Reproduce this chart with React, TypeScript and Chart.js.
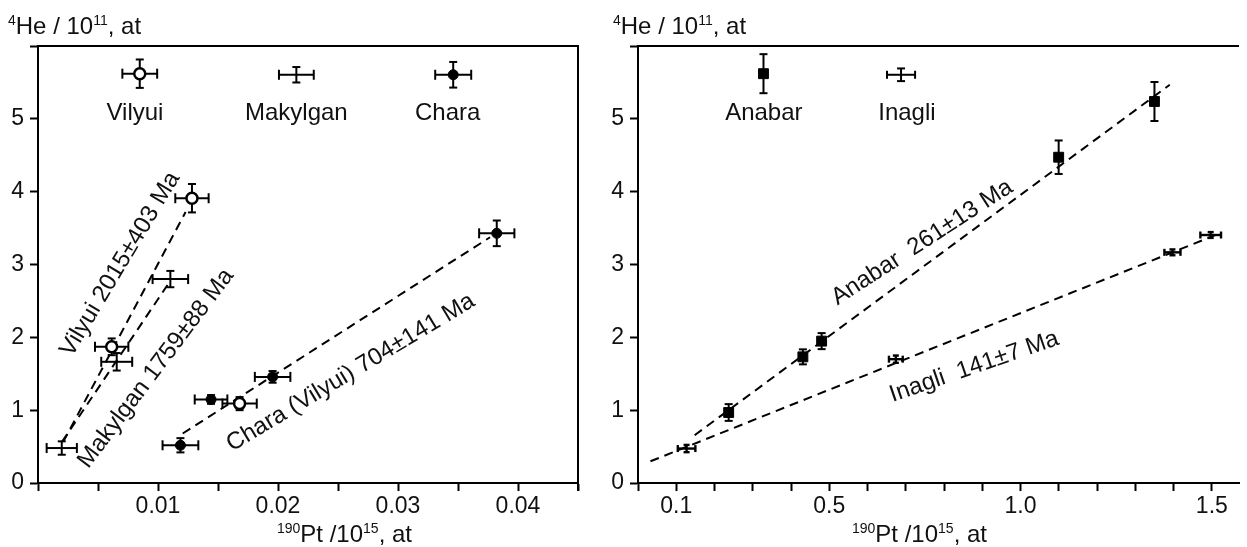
import React, { useEffect, useRef } from "react";
import { Chart, registerables } from "chart.js";

Chart.register(...registerables);

const FONT = "'Liberation Sans', Arial, Helvetica, sans-serif";

// ---------------- Left panel data ----------------
const vilyuiX = [0.00614, 0.01283, 0.0168];
const vilyuiY = [1.87, 3.91, 1.09];
const vilyuiXErr = [0.00139, 0.00139, 0.00143];
const vilyuiYErr = [0.115, 0.195, 0.09];

const makylganX = [0.00198, 0.00656, 0.01103];
const makylganY = [0.48, 1.664, 2.8];
const makylganXErr = [0.00126, 0.00129, 0.00148];
const makylganYErr = [0.092, 0.12, 0.112];

const charaX = [0.01187, 0.01442, 0.01955, 0.03823];
const charaY = [0.518, 1.147, 1.457, 3.428];
const charaXErr = [0.00149, 0.00136, 0.00148, 0.00147];
const charaYErr = [0.098, 0.06, 0.08, 0.176];

const vilyuiLineX = [0.0021, 0.0123];
const vilyuiLineY = [0.565, 3.72];
const makylganLineX = [0.002, 0.0108];
const makylganLineY = [0.565, 2.72];
const charaLineX = [0.01206, 0.03767];
const charaLineY = [0.68, 3.374];

const keyLeftNames = ["Vilyui", "Makylgan", "Chara"];
const keyLeftX = [0.00848, 0.02153, 0.0346];
const keyLeftY = [5.62, 5.605, 5.605];
const keyLeftXErr = [0.00145, 0.00145, 0.0015];
const keyLeftYErr = [0.195, 0.106, 0.176];
const keyLeftLabelX = [0.00808, 0.02153, 0.03414];

const leftAgeLabels = ["Vilyui 2015±403 Ma", "Makylgan 1759±88 Ma", "Chara (Vilyui) 704±141 Ma"];
const leftAgeLabelX = [0.00685, 0.00984, 0.02606];
const leftAgeLabelY = [3.004, 1.573, 1.515];

const leftXTickLabels = ["0.01", "0.02", "0.03", "0.04"];

// ---------------- Right panel data ----------------
const anabarX = [0.237, 0.431, 0.48, 1.0996, 1.35];
const anabarY = [0.968, 1.732, 1.948, 4.473, 5.238];
const anabarYErr = [0.115, 0.103, 0.11, 0.23, 0.268];

const inagliX = [0.127, 0.674, 1.397, 1.497];
const inagliY = [0.473, 1.7, 3.167, 3.405];
const inagliXErr = [0.023, 0.018, 0.021, 0.027];
const inagliYErr = [0.05, 0.05, 0.04, 0.04];

const anabarLineX = [0.148, 1.39];
const anabarLineY = [0.656, 5.467];
const inagliLineX = [0.0326, 1.521];
const inagliLineY = [0.298, 3.428];

const keyRightNames = ["Anabar", "Inagli"];
const keyRightX = [0.328, 0.6876];
const keyRightY = [5.62, 5.605];
const keyRightXErr = [0, 0.0367];
const keyRightYErr = [0.268, 0.087];
const keyRightLabelX = [0.329, 0.703];

const rightAgeLabels = ["Anabar  261±13 Ma", "Inagli  141±7 Ma"];
const rightAgeLabelX = [0.7428, 0.879];
const rightAgeLabelY = [3.302, 1.595];

const rightXTickLabels = ["0.1", "0.5", "1.0", "1.5"];

const yTickLabels = ["0", "1", "2", "3", "4", "5"];
const keyLabelY = 4.99;

type Seg = { t: string; sup?: boolean };
const yTitle: Seg[] = [{ t: "4", sup: true }, { t: "He / 10" }, { t: "11", sup: true }, { t: ", at" }];
const xTitle: Seg[] = [{ t: "190", sup: true }, { t: "Pt /10" }, { t: "15", sup: true }, { t: ", at" }];

function zip(xs: number[], ys: number[]) {
  return xs.map((x, i) => ({ x, y: ys[i] }));
}

function labelFor(labels: string[]) {
  return (value: any) => {
    const v = Number(value);
    const s = labels.find((l) => Math.abs(parseFloat(l) - v) < 1e-7);
    return s ?? "";
  };
}

function drawRich(ctx: CanvasRenderingContext2D, segs: Seg[], x: number, y: number) {
  let cx = x;
  ctx.textAlign = "left";
  ctx.textBaseline = "alphabetic";
  for (const s of segs) {
    ctx.font = `${s.sup ? 14 : 24}px ${FONT}`;
    ctx.fillText(s.t, cx, s.sup ? y - 9 : y);
    cx += ctx.measureText(s.t).width;
  }
}

const overlayPlugin = {
  id: "overlay",
  beforeDatasetsDraw(chart: any, _args: any, opts: any) {
    const ctx: CanvasRenderingContext2D = chart.ctx;
    const xs = chart.scales.x;
    const ys = chart.scales.y;
    ctx.save();
    ctx.strokeStyle = "#000";
    ctx.lineCap = "butt";
    const seg = (x1: number, y1: number, x2: number, y2: number) => {
      ctx.beginPath();
      ctx.moveTo(x1, y1);
      ctx.lineTo(x2, y2);
      ctx.stroke();
    };
    for (const s of opts.errorSeries || []) {
      ctx.lineWidth = s.lw;
      for (let i = 0; i < s.x.length; i++) {
        const px = xs.getPixelForValue(s.x[i]);
        const py = ys.getPixelForValue(s.y[i]);
        if (s.xErr && s.xErr[i]) {
          const x1 = xs.getPixelForValue(s.x[i] - s.xErr[i]);
          const x2 = xs.getPixelForValue(s.x[i] + s.xErr[i]);
          seg(x1, py, x2, py);
          seg(x1, py - s.capX, x1, py + s.capX);
          seg(x2, py - s.capX, x2, py + s.capX);
        }
        if (s.yErr && s.yErr[i]) {
          const y1 = ys.getPixelForValue(s.y[i] - s.yErr[i]);
          const y2 = ys.getPixelForValue(s.y[i] + s.yErr[i]);
          seg(px, y1, px, y2);
          seg(px - s.capY, y1, px + s.capY, y1);
          seg(px - s.capY, y2, px + s.capY, y2);
        }
      }
    }
    ctx.restore();
  },
  afterDraw(chart: any, _args: any, opts: any) {
    const ctx: CanvasRenderingContext2D = chart.ctx;
    const xs = chart.scales.x;
    const ys = chart.scales.y;
    const { left, right, top, bottom } = chart.chartArea;
    ctx.save();
    ctx.strokeStyle = "#000";
    ctx.lineWidth = 2;
    ctx.beginPath();
    ctx.moveTo(left, top);
    ctx.lineTo(right, top);
    if (opts.rightBorder) ctx.lineTo(right, bottom + 8);
    ctx.stroke();

    ctx.fillStyle = "#111";
    // key labels
    ctx.font = `24px ${FONT}`;
    ctx.textAlign = "center";
    ctx.textBaseline = "alphabetic";
    opts.keyNames.forEach((n: string, i: number) => {
      ctx.fillText(n, xs.getPixelForValue(opts.keyLabelX[i]), ys.getPixelForValue(keyLabelY));
    });
    // age labels
    opts.ageLabels.forEach((t: string, i: number) => {
      ctx.save();
      ctx.translate(xs.getPixelForValue(opts.ageX[i]), ys.getPixelForValue(opts.ageY[i]));
      ctx.rotate((-opts.ageAngle[i] * Math.PI) / 180);
      ctx.font = `24px ${FONT}`;
      ctx.textAlign = "center";
      ctx.textBaseline = "middle";
      ctx.fillText(t, 0, 0);
      ctx.restore();
    });
    // axis titles
    drawRich(ctx, yTitle, opts.yTitlePos[0], opts.yTitlePos[1]);
    drawRich(ctx, xTitle, opts.xTitlePos[0], opts.xTitlePos[1]);
    ctx.restore();
  },
};

function makeScales(xMax: number, xStep: number, xLabels: string[], includeBounds: boolean) {
  const grid = {
    display: true,
    drawOnChartArea: false,
    drawTicks: true,
    tickLength: 8,
    tickWidth: 2,
    tickColor: "#000",
  };
  const border = { display: true, color: "#000", width: 2 };
  return {
    x: {
      type: "linear",
      position: "bottom",
      min: 0,
      max: xMax,
      grid,
      border,
      ticks: {
        stepSize: xStep,
        includeBounds,
        autoSkip: false,
        maxRotation: 0,
        minRotation: 0,
        padding: 2,
        color: "#111",
        font: { family: FONT, size: 23 },
        callback: labelFor(xLabels),
      },
      afterFit: (s: any) => {
        s.height = 40;
      },
    },
    y: {
      type: "linear",
      position: "left",
      min: 0,
      max: 6,
      grid,
      border,
      ticks: {
        stepSize: 1,
        autoSkip: false,
        padding: 6,
        color: "#111",
        font: { family: FONT, size: 23 },
        callback: labelFor(yTickLabels),
      },
      afterFit: (s: any) => {
        s.width = 38;
      },
    },
  };
}

function lineDs(xs: number[], ys: number[]) {
  return {
    data: zip(xs, ys),
    showLine: true,
    borderColor: "#000",
    borderWidth: 2,
    borderDash: [9, 6],
    pointRadius: 0,
    fill: false,
    order: 5,
  };
}

function markerDs(xs: number[], ys: number[], style: string, radius: number, bg: string, bw: number) {
  return {
    data: zip(xs, ys),
    showLine: false,
    pointStyle: style,
    pointRadius: radius,
    pointBackgroundColor: bg,
    pointBorderColor: "#000",
    pointBorderWidth: bw,
    order: 0,
  };
}

export default function App() {
  const leftRef = useRef<HTMLCanvasElement>(null);
  const rightRef = useRef<HTMLCanvasElement>(null);

  useEffect(() => {
    const left = new Chart(leftRef.current as HTMLCanvasElement, {
      type: "scatter",
      data: {
        datasets: [
          markerDs(vilyuiX, vilyuiY, "circle", 5.5, "#fff", 2.5),
          markerDs(charaX, charaY, "circle", 5, "#000", 1),
          markerDs([keyLeftX[0]], [keyLeftY[0]], "circle", 5.5, "#fff", 2.5),
          markerDs([keyLeftX[2]], [keyLeftY[2]], "circle", 5, "#000", 1),
          lineDs(vilyuiLineX, vilyuiLineY),
          lineDs(makylganLineX, makylganLineY),
          lineDs(charaLineX, charaLineY),
        ] as any,
      },
      options: {
        responsive: false,
        animation: false,
        events: [],
        layout: { padding: { left: 0, top: 46, right: 22, bottom: 24 } },
        scales: makeScales(0.045, 0.005, leftXTickLabels, true) as any,
        plugins: {
          legend: { display: false },
          tooltip: { enabled: false },
          overlay: {
            rightBorder: true,
            errorSeries: [
              { x: vilyuiX, y: vilyuiY, xErr: vilyuiXErr, yErr: vilyuiYErr, lw: 2, capX: 5, capY: 4 },
              { x: makylganX, y: makylganY, xErr: makylganXErr, yErr: makylganYErr, lw: 2, capX: 5, capY: 4 },
              { x: charaX, y: charaY, xErr: charaXErr, yErr: charaYErr, lw: 2, capX: 5, capY: 4 },
              { x: keyLeftX, y: keyLeftY, xErr: keyLeftXErr, yErr: keyLeftYErr, lw: 2, capX: 5, capY: 4 },
            ],
            keyNames: keyLeftNames,
            keyLabelX: keyLeftLabelX,
            ageLabels: leftAgeLabels,
            ageX: leftAgeLabelX,
            ageY: leftAgeLabelY,
            ageAngle: [59, 53, 31],
            yTitlePos: [8, 34],
            xTitlePos: [277, 542],
          },
        } as any,
      },
      plugins: [overlayPlugin as any],
    });

    const right = new Chart(rightRef.current as HTMLCanvasElement, {
      type: "scatter",
      data: {
        datasets: [
          markerDs(anabarX, anabarY, "rect", 7, "#000", 1),
          markerDs([keyRightX[0]], [keyRightY[0]], "rect", 7, "#000", 1),
          lineDs(anabarLineX, anabarLineY),
          lineDs(inagliLineX, inagliLineY),
        ] as any,
      },
      options: {
        responsive: false,
        animation: false,
        events: [],
        layout: { padding: { left: 0, top: 46, right: 0, bottom: 24 } },
        scales: makeScales(1.571, 0.1, rightXTickLabels, false) as any,
        plugins: {
          legend: { display: false },
          tooltip: { enabled: false },
          overlay: {
            rightBorder: false,
            errorSeries: [
              { x: anabarX, y: anabarY, yErr: anabarYErr, lw: 2, capX: 5, capY: 4 },
              { x: inagliX, y: inagliY, xErr: inagliXErr, yErr: inagliYErr, lw: 2.4, capX: 3.5, capY: 3 },
              { x: keyRightX, y: keyRightY, xErr: keyRightXErr, yErr: keyRightYErr, lw: 2, capX: 4, capY: 4 },
            ],
            keyNames: keyRightNames,
            keyLabelX: keyRightLabelX,
            ageLabels: rightAgeLabels,
            ageX: rightAgeLabelX,
            ageY: rightAgeLabelY,
            ageAngle: [33, 19],
            yTitlePos: [13, 34],
            xTitlePos: [252, 542],
          },
        } as any,
      },
      plugins: [overlayPlugin as any],
    });

    return () => {
      left.destroy();
      right.destroy();
    };
  }, []);

  return (
    <div
      style={{
        position: "fixed",
        left: 0,
        top: 0,
        width: 1247,
        height: 547,
        background: "#fff",
        overflow: "hidden",
      }}
    >
      <canvas
        ref={leftRef}
        width={600}
        height={547}
        style={{ position: "absolute", left: 0, top: 0, width: 600, height: 547 }}
      />
      <canvas
        ref={rightRef}
        width={647}
        height={547}
        style={{ position: "absolute", left: 600, top: 0, width: 647, height: 547 }}
      />
    </div>
  );
}
